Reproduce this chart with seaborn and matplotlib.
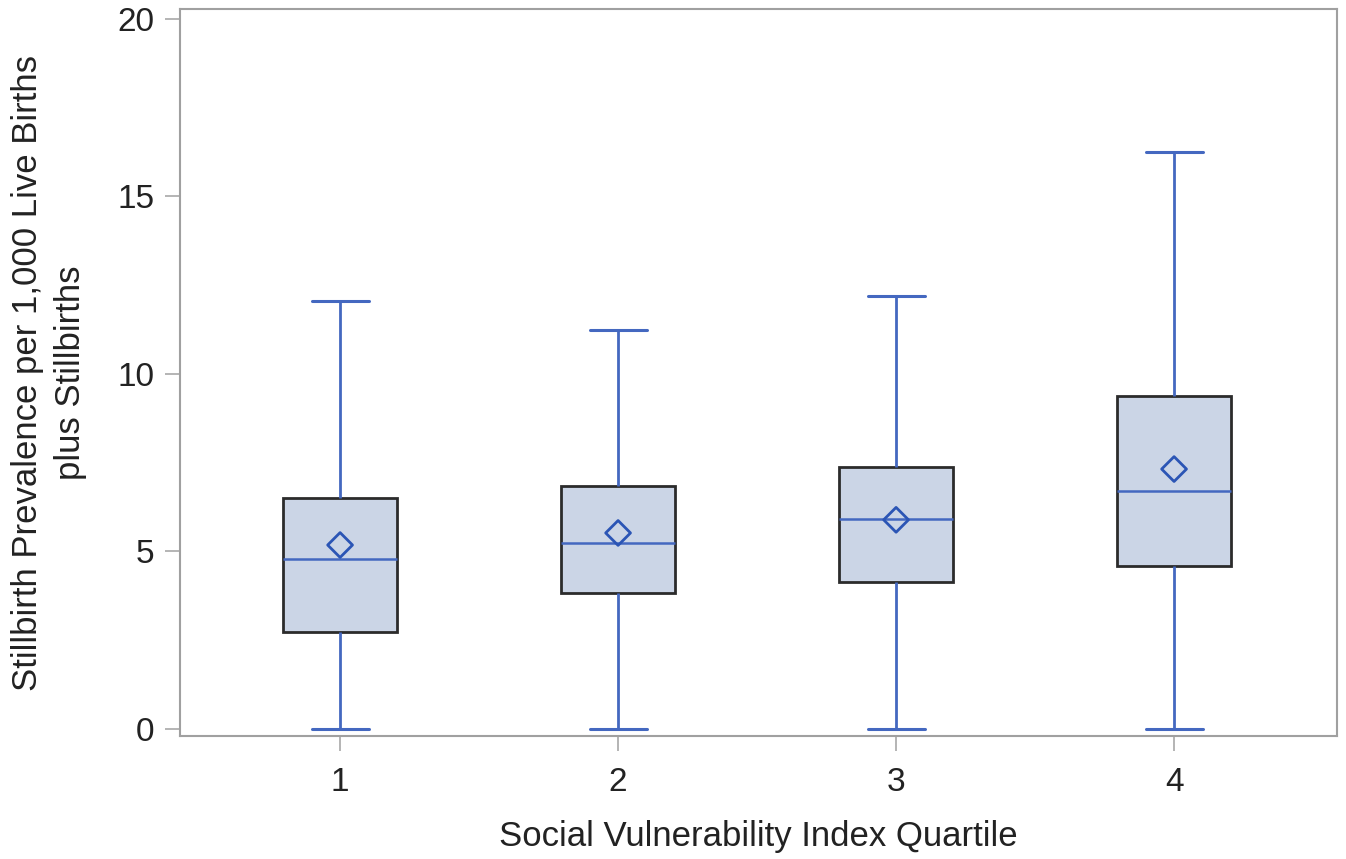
import numpy as np
import pandas as pd
import matplotlib
matplotlib.use('Agg')
import matplotlib.pyplot as plt
import seaborn as sns

# Box summaries (min, Q1, median, Q3, max) and means
quartiles = ['1', '2', '3', '4']
mins = [0.0, 0.0, 0.0, 0.0]
q1s = [2.73, 3.83, 4.14, 4.59]
medians = [4.79, 5.24, 5.92, 6.70]
q3s = [6.50, 6.85, 7.38, 9.38]
maxs = [12.06, 11.24, 12.20, 16.25]
means = [5.18, 5.52, 5.89, 7.32]

# five points per group reproduce the five-number summary exactly
rows = []
for i, q in enumerate(quartiles):
    for v in (mins[i], q1s[i], medians[i], q3s[i], maxs[i]):
        rows.append({'quartile': q, 'value': v})
df = pd.DataFrame(rows)
mean_df = pd.DataFrame({'quartile': quartiles, 'mean': means})

sns.set_style('white')
plt.rcParams['font.family'] = ['Liberation Sans', 'DejaVu Sans']

blue = '#4468C0'
fig = plt.figure(figsize=(13.46, 8.59), dpi=100)
ax = fig.add_axes([0.1337, 0.1432, 0.8596, 0.8463])

sns.boxplot(data=df, x='quartile', y='value', ax=ax, whis=(0, 100), width=0.41,
            color='#CBD5E6', linewidth=2.0, showfliers=False,
            boxprops=dict(facecolor='#CBD5E6', edgecolor='#2b2b2b', linewidth=2.0),
            whiskerprops=dict(color=blue, linewidth=2.0),
            capprops=dict(color=blue, linewidth=2.2),
            medianprops=dict(color=blue, linewidth=1.8))

sns.scatterplot(data=mean_df, x='quartile', y='mean', ax=ax, marker='D', s=160,
                facecolor='none', edgecolor='#2B55B5', linewidth=2.0, zorder=5)

ax.set_xlim(-0.576, 3.586)
ax.set_ylim(-0.2, 20.28)
ax.set_yticks([0, 5, 10, 15, 20])
ax.set_xlabel('Social Vulnerability Index Quartile', fontsize=25, color='#222222', labelpad=16)
ax.set_ylabel('Stillbirth Prevalence per 1,000 Live Births\nplus Stillbirths', fontsize=25,
              color='#222222', labelpad=22, linespacing=1.35)
ax.tick_params(axis='both', labelsize=24, colors='#222222', length=10.5, width=1.2,
               color='#A8A8A8', direction='out', left=True, bottom=True)
ax.tick_params(axis='y', pad=8)
ax.tick_params(axis='x', pad=12)
for side in ax.spines.values():
    side.set_color('#A0A0A0')
    side.set_linewidth(1.5)

fig.savefig('out.png', dpi=100)
